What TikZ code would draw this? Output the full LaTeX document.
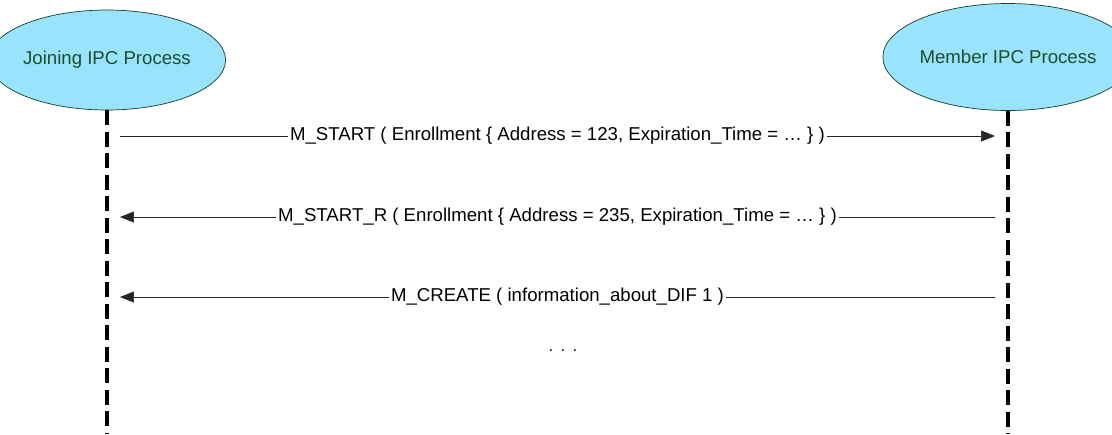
\documentclass[tikz,border=0pt]{standalone}
\usepackage{fontspec}
\setmainfont{Liberation Sans}
\usepackage{xcolor}
\usetikzlibrary{shapes.geometric, arrows.meta}
\definecolor{procfill}{HTML}{99E3FD}
\definecolor{proctext}{HTML}{1E4D2B}

\begin{document}
\begin{tikzpicture}[x=0.02cm, y=-0.02cm, font=\fontsize{10.6}{12.7}\selectfont,
    process/.style={ellipse, draw=proctext!80!black, fill=procfill, text=proctext, minimum width=4cm, inner sep=0pt},
    lifeline/.style={line width=2.1pt, dash pattern=on 0.3cm off 0.13cm},
    message/.style={draw=black!85, shorten <=0.26cm, shorten >=0.26cm, -{Triangle[length=2.8mm, width=2.2mm]}},
    msglabel/.style={fill=white, inner sep=1pt}]
    \useasboundingbox (0,0) rectangle (1112,434);

    % Processes
    \node[process, minimum height=2cm] (joining) at (107,60) {Joining IPC Process};
    \node[process, minimum height=2.14cm] (member) at (1008,57) {Member IPC Process};

    % Lifelines
    \coordinate (joiningend) at (107,434);
    \coordinate (memberend) at (1008,434);
    \draw[lifeline] (joining.south) -- (joiningend);
    \draw[lifeline] (member.south) -- (memberend);

    % Message points on the lifelines
    \foreach \n/\y in {1/136, 2/217, 3/297} {
        \coordinate (j\n) at (107,\y);
        \coordinate (m\n) at (1008,\y);
    }

    % Messages
    \draw[message] (j1) -- node[msglabel] {M\_START ( Enrollment \{ Address = 123, Expiration\_Time = … \} )} (m1);
    \draw[message] (m2) -- node[msglabel] {M\_START\_R ( Enrollment \{ Address = 235, Expiration\_Time = … \} )} (j2);
    \draw[message] (m3) -- node[msglabel] {M\_CREATE ( information\_about\_DIF 1 )} (j3);

    \node[text=proctext] (more) at (563,350) {. . .};
\end{tikzpicture}
\end{document}
